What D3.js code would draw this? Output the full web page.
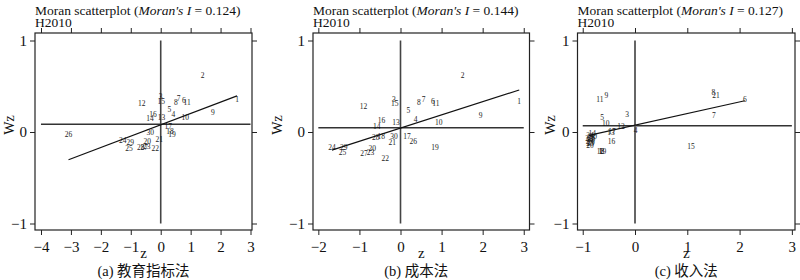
<!DOCTYPE html>
<html>
<head>
<meta charset="utf-8">
<script src="https://cdn.jsdelivr.net/npm/d3@7"></script>
<style>
  body { margin: 0; background: #fff; }
  svg text { font-family: "Liberation Serif", "Times New Roman", serif; fill: #111; }
  svg text.cap { font-family: "Liberation Serif", "Noto Sans CJK SC", serif; }
  .labels { opacity: 0.95; }
</style>
</head>
<body>
<svg width="800" height="280"></svg>
<script>
// (a) education index method
const idsA = [1, 2, 3, 4, 5, 6, 7, 8, 9, 10, 11, 12, 13, 14, 15, 16, 17, 18, 19, 20, 21, 22, 23, 24, 25, 26, 27, 28, 29, 30];
const zA = [2.55, 1.4, 0.0, 0.42, 0.29, 0.77, 0.6, 0.51, 1.74, 0.82, 0.88, -0.63, 0.03, -0.36, 0.02, -0.26, 0.25, 0.31, 0.38, -0.45, -0.05, -0.18, -0.47, -1.27, -1.06, -3.08, -0.55, -0.67, -1.02, -0.35];
const wzA = [0.353, 0.615, 0.386, 0.19, 0.25, 0.34, 0.364, 0.32, 0.215, 0.16, 0.325, 0.31, 0.155, 0.15, 0.335, 0.19, 0.06, 0.01, -0.03, -0.105, -0.08, -0.18, -0.16, -0.095, -0.18, -0.03, -0.165, -0.17, -0.12, 0.0];

// (b) cost method
const idsB = [1, 2, 3, 4, 5, 6, 7, 8, 9, 10, 11, 12, 13, 14, 15, 16, 17, 18, 19, 20, 21, 22, 23, 24, 25, 26, 27, 28, 29, 30];
const zB = [2.89, 1.51, -0.16, 0.37, 0.19, 0.79, 0.56, 0.45, 1.95, 0.93, 0.86, -0.9, -0.11, -0.58, -0.14, -0.46, 0.16, -0.47, 0.84, -0.69, -0.2, -0.37, -0.73, -1.67, -1.41, 0.31, -0.89, -0.6, -1.38, -0.16];
const wzB = [0.33, 0.62, 0.36, 0.14, 0.23, 0.335, 0.36, 0.32, 0.175, 0.105, 0.31, 0.28, 0.105, 0.06, 0.31, 0.125, -0.045, -0.045, -0.17, -0.175, -0.11, -0.285, -0.225, -0.17, -0.225, -0.1, -0.24, -0.06, -0.17, -0.05];

// (c) income method
const idsC = [1, 2, 3, 4, 5, 6, 7, 8, 9, 10, 11, 12, 13, 14, 15, 16, 17, 18, 19, 20, 21, 22, 23, 24, 25, 26, 27, 28, 29, 30];
const zC = [-0.66, -0.63, -0.15, 0.01, -0.63, 2.1, 1.51, 1.5, -0.55, -0.56, -0.67, -0.27, -0.46, -0.82, 1.07, -0.45, -0.44, -0.66, -0.62, -0.86, 1.55, -0.85, -0.87, -0.86, -0.86, -0.83, -0.88, -0.84, -0.84, -0.8];
const wzC = [-0.21, -0.215, 0.19, 0.02, 0.155, 0.36, 0.18, 0.43, 0.4, 0.09, 0.36, 0.065, 0.0, -0.015, -0.155, -0.1, 0.005, -0.215, -0.215, -0.145, 0.4, -0.085, -0.1, -0.035, -0.125, -0.075, -0.07, -0.055, -0.11, -0.045];

const moranI = [0.124, 0.144, 0.127];
const intercepts = [0.078, 0.043, 0.075];
const meanWz = [0.084, 0.047, 0.069];
const xTicks = [[-4, -3, -2, -1, 0, 1, 2, 3], [-2, -1, 0, 1, 2, 3], [-1, 0, 1, 2, 3]];
const yTicks = [-1, 0, 1];
const captions = ['(a) 教育指标法', '(b) 成本法', '(c) 收入法'];

const panels = [
  { ids: idsA, z: zA, wz: wzA, dom: [-4.2, 3.05], range: [35, 252], wzX: 9 },
  { ids: idsB, z: zB, wz: wzB, dom: [-2.13, 3.14], range: [313, 529.5], wzX: 277 },
  { ids: idsC, z: zC, wz: wzC, dom: [-1.1, 3.06], range: [577.5, 795], wzX: 550 }
];

const svg = d3.select('svg');
const y = d3.scaleLinear().domain([-1.071, 1.082]).range([230, 33]);

panels.forEach((p, i) => {
  const x = d3.scaleLinear().domain(p.dom).range(p.range);
  const g = svg.append('g');
  const [x0, x1] = p.range;

  // frame
  g.append('rect')
    .attr('x', x0).attr('y', 33)
    .attr('width', x1 - x0).attr('height', 197)
    .attr('fill', 'none').attr('stroke', '#222').attr('stroke-width', 1.2);

  const ticks = xTicks[i];

  g.append('g')
    .attr('transform', 'translate(0,230)')
    .call(d3.axisBottom(x).tickValues(ticks).tickSize(5).tickSizeOuter(0).tickFormat(d3.format('d')))
    .call(a => a.select('.domain').remove())
    .call(a => a.selectAll('text').attr('font-size', 15).attr('dy', '0.95em'));

  g.append('g')
    .attr('transform', 'translate(0,33)')
    .call(d3.axisTop(x).tickValues(ticks).tickSize(5).tickSizeOuter(0).tickFormat(''))
    .call(a => a.select('.domain').remove());

  g.append('g')
    .attr('transform', `translate(${x0},0)`)
    .call(d3.axisLeft(y).tickValues(yTicks).tickSize(5).tickSizeOuter(0).tickFormat(d3.format('d')))
    .call(a => a.select('.domain').remove())
    .call(a => a.selectAll('text').attr('font-size', 15));

  g.append('g')
    .attr('transform', `translate(${x1},0)`)
    .call(d3.axisRight(y).tickValues(yTicks).tickSize(5).tickSizeOuter(0).tickFormat(''))
    .call(a => a.select('.domain').remove());

  g.selectAll('.tick line').attr('stroke', '#222');

  // reference lines
  g.append('line')
    .attr('x1', x(ticks[0])).attr('x2', x(ticks[ticks.length - 1]))
    .attr('y1', y(meanWz[i])).attr('y2', y(meanWz[i]))
    .attr('stroke', '#333').attr('stroke-width', 1.4);
  g.append('line')
    .attr('x1', x(0)).attr('x2', x(0))
    .attr('y1', y(1)).attr('y2', y(-1))
    .attr('stroke', i === 2 ? '#666' : '#444').attr('stroke-width', i === 2 ? 2 : 1.6);

  // regression line
  const ext = d3.extent(p.z);
  g.append('line')
    .attr('x1', x(ext[0])).attr('x2', x(ext[1]))
    .attr('y1', y(intercepts[i] + moranI[i] * ext[0]))
    .attr('y2', y(intercepts[i] + moranI[i] * ext[1]))
    .attr('stroke', '#111').attr('stroke-width', 1.2);

  // point labels
  g.append('g').attr('class', 'labels')
    .selectAll('text')
    .data(p.ids)
    .enter()
    .append('text')
    .attr('x', (d, j) => x(p.z[j]))
    .attr('y', (d, j) => y(p.wz[j]))
    .attr('text-anchor', 'middle')
    .attr('dominant-baseline', 'central')
    .attr('font-size', 7.5)
    .text(d => d);

  // titles
  const t = g.append('text').attr('x', x0).attr('y', 15)
    .attr('text-anchor', 'start').attr('font-size', 13.5);
  t.append('tspan').attr('x', x0).text('Moran scatterplot (');
  t.append('tspan').attr('font-style', 'italic').text("Moran's I");
  t.append('tspan').text(` = ${moranI[i].toFixed(3)})`);
  g.append('text').attr('x', x0).attr('y', 27)
    .attr('text-anchor', 'start').attr('font-size', 13.5).text('H2010');

  g.append('text')
    .attr('transform', `translate(${p.wzX},125) rotate(-90)`)
    .attr('text-anchor', 'middle')
    .attr('dominant-baseline', 'central')
    .attr('font-size', 14)
    .text('Wz');

  g.append('text')
    .attr('x', (x0 + x1) / 2).attr('y', 258)
    .attr('text-anchor', 'middle')
    .attr('font-size', 15)
    .text('z');

  g.append('text')
    .attr('class', 'cap')
    .attr('x', (x0 + x1) / 2 - (i === 1 ? 5 : 0)).attr('y', 276)
    .attr('text-anchor', 'middle')
    .attr('font-size', 14.5)
    .text(captions[i]);
});
</script>
</body>
</html>
